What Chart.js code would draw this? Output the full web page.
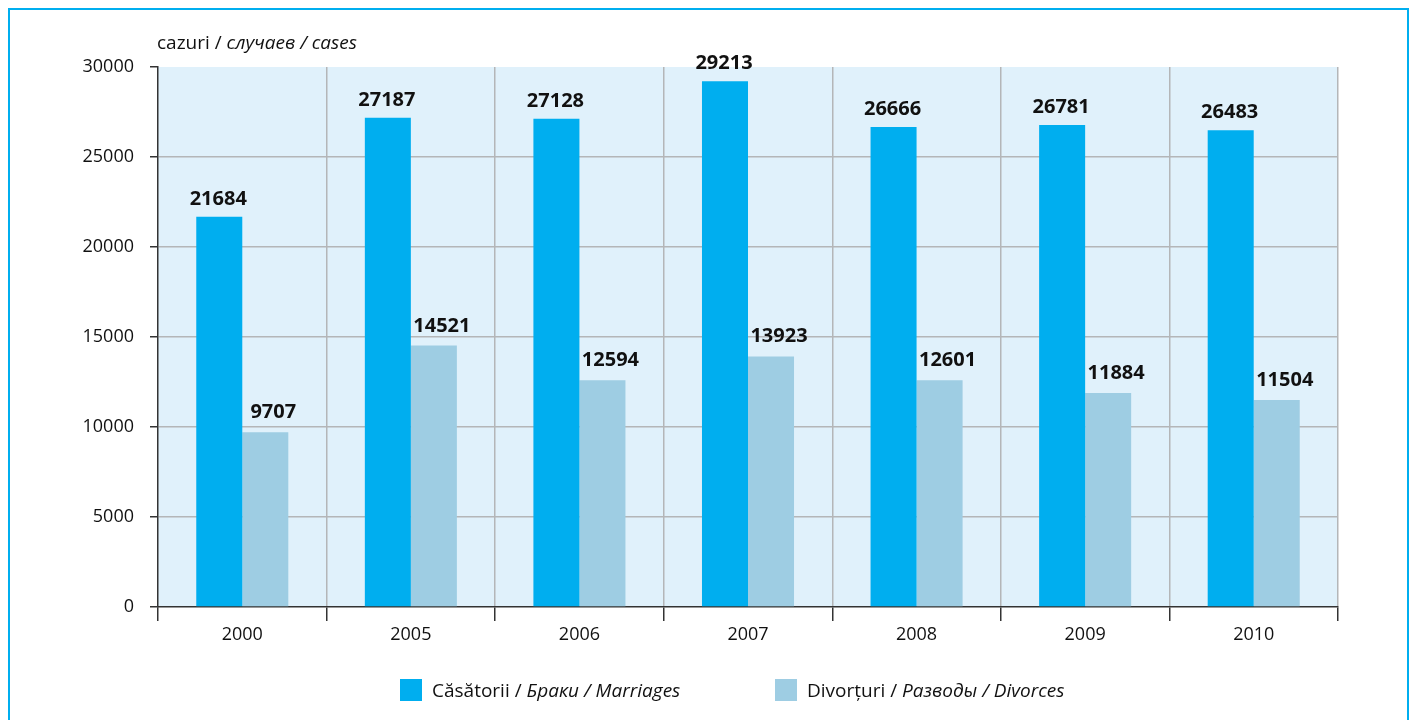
<!DOCTYPE html>
<html>
<head>
<meta charset="utf-8">
<script src="https://cdn.jsdelivr.net/npm/chart.js@4/dist/chart.umd.min.js"></script>
<style>
  html, body { margin: 0; padding: 0; background: #fff; }
  #wrap { width: 1412px; height: 720px; position: relative; }
</style>
</head>
<body>
<div id="wrap"><canvas id="chart" width="1412" height="720"></canvas></div>
<script>
const years = ["2000", "2005", "2006", "2007", "2008", "2009", "2010"]
const marriages = [21684, 27187, 27128, 29213, 26666, 26781, 26483]
const divorces = [9707, 14521, 12594, 13923, 12601, 11884, 11504]
const yTicks = [0, 5000, 10000, 15000, 20000, 25000, 30000]

const FONT = "'Open Sans', 'Noto Sans', sans-serif"
const DARK = "#333333"
const GRID = "#b4b6b8"

// page frame, plot background, axis title, legend and value labels
const decor = {
  id: "decor",
  beforeDraw(chart) {
    const { ctx, chartArea: a } = chart
    ctx.save()
    ctx.fillStyle = "#e0f1fb"
    ctx.fillRect(a.left, a.top, a.right - a.left, a.bottom - a.top)
    ctx.strokeStyle = "#00aeef"
    ctx.lineWidth = 2
    ctx.strokeRect(9, 9, 1399, 730)
    ctx.restore()
  },
  afterDraw(chart) {
    const { ctx } = chart
    ctx.save()
    ctx.fillStyle = "#111"
    ctx.textBaseline = "alphabetic"
    const parts = (x, y, list) => {
      list.forEach(([t, it]) => {
        ctx.font = (it ? "italic " : "") + "19px " + FONT
        ctx.fillText(t, x, y)
        x += ctx.measureText(t).width
      })
    }
    parts(157, 49, [["cazuri / ", false], ["случаев / cases", true]])

    const items = [
      { x: 400, color: "#00aeef", text: [["Căsătorii / ", false], ["Браки / Marriages", true]] },
      { x: 775, color: "#9ecde3", text: [["Divorțuri / ", false], ["Разводы / Divorces", true]] }
    ]
    items.forEach(it => {
      ctx.fillStyle = it.color
      ctx.fillRect(it.x, 679, 22, 22)
      ctx.fillStyle = "#111"
      parts(it.x + 32, 697, it.text)
    })
    ctx.restore()
  },
  afterDatasetsDraw(chart) {
    const { ctx } = chart
    ctx.save()
    ctx.font = "bold 20px " + FONT
    ctx.fillStyle = "#111"
    ctx.textAlign = "center"
    ctx.textBaseline = "alphabetic"
    chart.data.datasets.forEach((ds, i) => {
      const dx = i === 1 ? 8 : -1
      const dy = i === 1 ? 14 : 12
      chart.getDatasetMeta(i).data.forEach((bar, j) => {
        ctx.fillText(String(ds.data[j]), bar.x + dx, bar.y - dy)
      })
    })
    ctx.restore()
  }
}

new Chart(document.getElementById("chart"), {
  type: "bar",
  data: {
    labels: years,
    datasets: [
      { label: "Căsătorii / Браки / Marriages", data: marriages, backgroundColor: "#00aeef" },
      { label: "Divorțuri / Разводы / Divorces", data: divorces, backgroundColor: "#9ecde3" }
    ]
  },
  options: {
    responsive: false,
    animation: false,
    events: [],
    layout: { padding: { left: 0, right: 74, top: 67, bottom: 73 } },
    datasets: { bar: { barPercentage: 1, categoryPercentage: 0.546 } },
    plugins: { legend: { display: false }, tooltip: { enabled: false } },
    scales: {
      x: {
        grid: {
          offset: true,
          color: ctx => ctx.index === 0 || ctx.index === years.length ? "rgba(0,0,0,0)" : GRID,
          tickColor: ctx => ctx.index === years.length ? "rgba(0,0,0,0)" : DARK,
          tickLength: 14,
          lineWidth: 1.5
        },
        border: { color: DARK, width: 1.5 },
        ticks: { color: "#111", font: { family: FONT, size: 18 }, padding: 3 },
        afterFit(scale) { scale.height = 40 }
      },
      y: {
        min: 0,
        max: 30000,
        afterBuildTicks(scale) { scale.ticks = yTicks.map(v => ({ value: v })) },
        grid: {
          color: ctx => ctx.tick && (ctx.tick.value === 0 || ctx.tick.value === 30000) ? "rgba(0,0,0,0)" : GRID,
          tickColor: DARK,
          tickLength: 8,
          lineWidth: 1.5
        },
        border: { color: DARK, width: 1.5 },
        ticks: {
          color: "#111",
          font: { family: FONT, size: 18 },
          padding: 16,
          callback: v => String(v)
        },
        afterFit(scale) { scale.width = 158 }
      }
    }
  },
  plugins: [decor]
})
</script>
</body>
</html>
